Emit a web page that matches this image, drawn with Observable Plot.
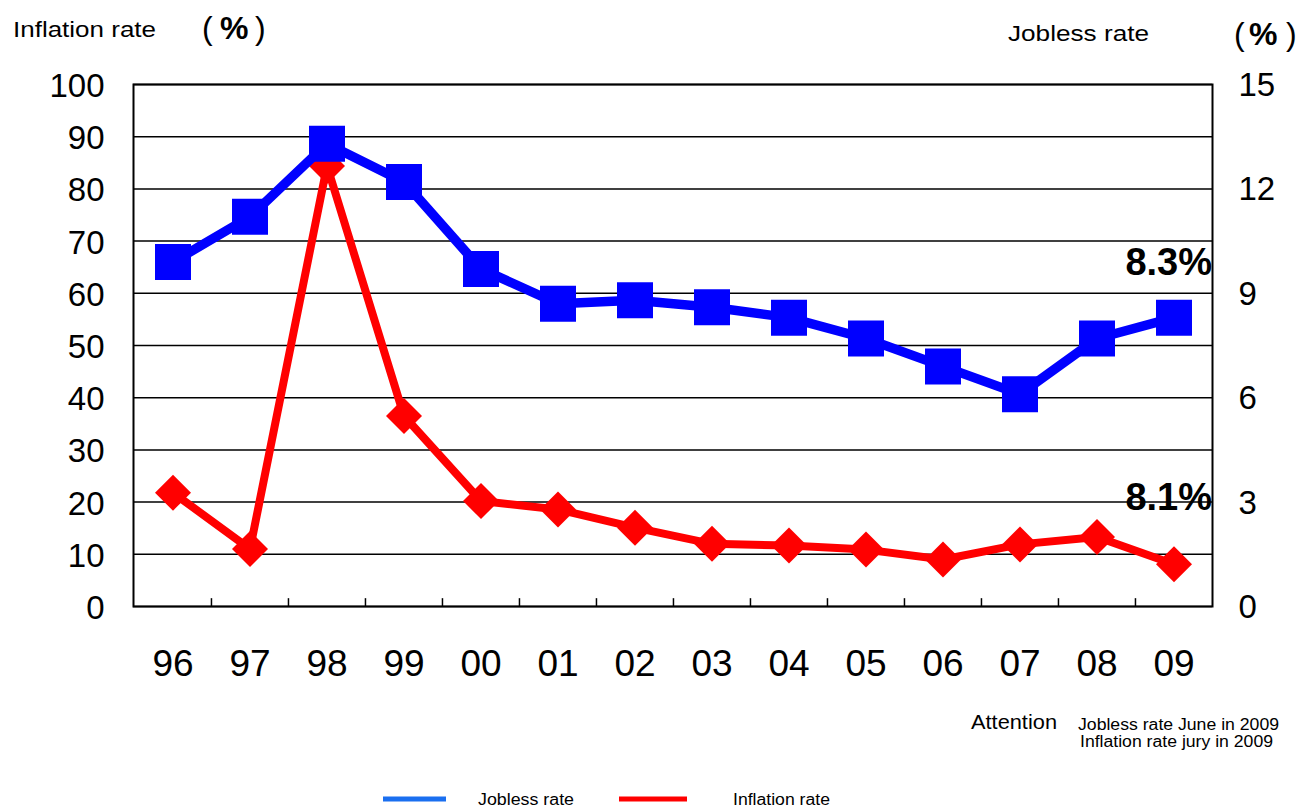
<!DOCTYPE html>
<html>
<head>
<meta charset="utf-8">
<script src="https://cdn.jsdelivr.net/npm/d3@7"></script>
<script src="https://cdn.jsdelivr.net/npm/@observablehq/plot@0.6"></script>
<style>
  html, body { margin: 0; padding: 0; background: #fff; }
  #wrap { position: relative; width: 1304px; height: 807px; overflow: hidden; font-family: "Liberation Sans", Arial, sans-serif; }
  #chart { position: absolute; left: 0; top: 0; }
  #overlay { position: absolute; left: 0; top: 0; pointer-events: none; }
  #overlay text { font-family: "Liberation Sans", Arial, sans-serif; fill: #000; }
</style>
</head>
<body>
<div id="wrap">
  <div id="chart"></div>
  <svg id="overlay" width="1304" height="807" viewBox="0 0 1304 807">
    <!-- axis titles -->
    <text x="13" y="37" font-size="22" textLength="143" lengthAdjust="spacingAndGlyphs">Inflation rate</text>
    <text x="202" y="39" font-size="32">(</text>
    <text x="220" y="39" font-size="32" font-weight="bold">%</text>
    <text x="255" y="39" font-size="32">)</text>
    <text x="1008" y="41" font-size="22" textLength="141" lengthAdjust="spacingAndGlyphs">Jobless rate</text>
    <text x="1234" y="45" font-size="32">(</text>
    <text x="1249" y="45" font-size="32" font-weight="bold">%</text>
    <text x="1286" y="45" font-size="32">)</text>
    <!-- note -->
    <text x="971" y="729" font-size="20" textLength="86" lengthAdjust="spacingAndGlyphs">Attention</text>
    <text x="1078" y="730" font-size="16" textLength="201" lengthAdjust="spacingAndGlyphs">Jobless rate June in 2009</text>
    <text x="1080" y="747" font-size="16" textLength="193" lengthAdjust="spacingAndGlyphs">Inflation rate jury in 2009</text>
    <!-- legend -->
    <line x1="383" x2="446" y1="799" y2="799" stroke="#1a6ff0" stroke-width="5"></line>
    <text x="478" y="805" font-size="16" textLength="96" lengthAdjust="spacingAndGlyphs">Jobless rate</text>
    <line x1="619" x2="687" y1="799" y2="799" stroke="#ff0000" stroke-width="5"></line>
    <text x="733" y="805" font-size="16" textLength="97" lengthAdjust="spacingAndGlyphs">Inflation rate</text>
  </svg>
</div>
<script>
// Years shown on the x axis
const years = ["96", "97", "98", "99", "00", "01", "02", "03", "04", "05", "06", "07", "08", "09"];
// Jobless rate, % (right axis)
const jobless = [9.9, 11.2, 13.3, 12.2, 9.7, 8.7, 8.8, 8.6, 8.3, 7.7, 6.9, 6.1, 7.7, 8.3];
// Inflation rate, % (left axis)
const inflation = [21.8, 11.0, 84.4, 36.5, 20.2, 18.6, 15.1, 12.0, 11.7, 10.9, 9.0, 11.9, 13.3, 8.1];
// Axis ticks
const leftTicks = [0, 10, 20, 30, 40, 50, 60, 70, 80, 90, 100];
const rightTicks = [0, 3, 6, 9, 12, 15];

const LEFT_MAX = 100, RIGHT_MAX = 15;
const k = LEFT_MAX / RIGHT_MAX; // right-axis units -> left-axis units

const rows = years.map((year, i) => ({year, jobless: jobless[i], inflation: inflation[i]}));
const last = rows.slice(-1);

const W = 1304, H = 700;
const mL = 133, mR = 92, mT = 84, mB = 94;
const bw = (W - mL - mR) / years.length;

// symbols whose size is given by r as a half-width
const square = {
  draw(ctx, size) {
    const h = Math.sqrt(size / Math.PI);
    ctx.rect(-h, -h, 2 * h, 2 * h);
  }
};
const diamond = {
  draw(ctx, size) {
    const h = Math.sqrt(size / Math.PI);
    ctx.moveTo(0, -h); ctx.lineTo(h, 0); ctx.lineTo(0, h); ctx.lineTo(-h, 0); ctx.closePath();
  }
};

const chart = Plot.plot({
  width: W,
  height: H,
  marginLeft: mL,
  marginRight: mR,
  marginTop: mT,
  marginBottom: mB,
  style: {fontFamily: "'Liberation Sans', Arial, sans-serif", color: "#000", background: "transparent", overflow: "visible"},
  x: {type: "band", domain: years, padding: 0},
  y: {domain: [0, LEFT_MAX]},
  marks: [
    Plot.gridY(leftTicks, {stroke: "#000", strokeOpacity: 1, strokeWidth: 1.5}),
    // short ticks between years along the bottom edge
    Plot.ruleX(years.slice(1), {x: d => d, y1: 0, y2: 1.5, dx: -bw / 2, stroke: "#000", strokeWidth: 1.5}),
    Plot.frame({stroke: "#000", strokeWidth: 2}),
    Plot.axisY(leftTicks, {anchor: "left", tickSize: 0, tickPadding: 29, fontSize: 33, dy: 2, label: null}),
    Plot.axisY(rightTicks.map(v => v * k), {anchor: "right", tickSize: 0, tickPadding: 26, fontSize: 33, dy: 1,
      tickFormat: v => String(Math.round(v / k)), label: null}),
    Plot.axisX({tickSize: 0, tickPadding: 43, fontSize: 37, label: null}),
    // inflation (left axis)
    Plot.line(rows, {x: "year", y: "inflation", stroke: "#ff0000", strokeWidth: 8}),
    Plot.dot(rows, {x: "year", y: "inflation", symbol: diamond, r: 18, fill: "#ff0000", stroke: null}),
    // jobless (right axis, rescaled)
    Plot.line(rows, {x: "year", y: d => d.jobless * k, stroke: "#0000ff", strokeWidth: 9.5}),
    Plot.dot(rows, {x: "year", y: d => d.jobless * k, symbol: square, r: 18, fill: "#0000ff", stroke: null}),
    // latest values
    Plot.text(last, {x: "year", y: d => d.jobless * k, text: d => d.jobless.toFixed(1) + "%",
      textAnchor: "end", dx: 38, dy: -55, fontSize: 38, fontWeight: "bold", fill: "#000"}),
    Plot.text(last, {x: "year", y: "inflation", text: d => d.inflation.toFixed(1) + "%",
      textAnchor: "end", dx: 38, dy: -66, fontSize: 38, fontWeight: "bold", fill: "#000"})
  ]
});

document.getElementById("chart").appendChild(chart);
</script>
</body>
</html>
